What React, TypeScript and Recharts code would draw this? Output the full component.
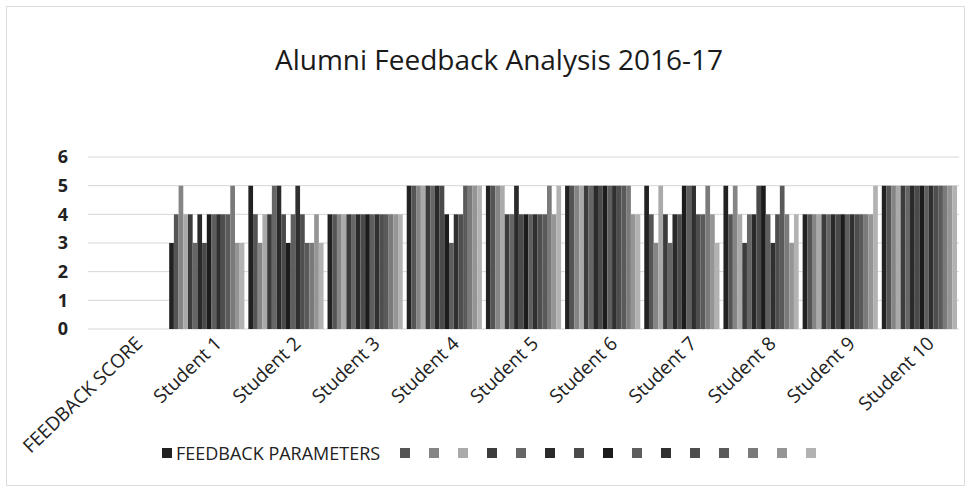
import { BarChart, Bar, XAxis, YAxis, CartesianGrid } from 'recharts';

const categories = [
  'FEEDBACK SCORE',
  'Student 1',
  'Student 2',
  'Student 3',
  'Student 4',
  'Student 5',
  'Student 6',
  'Student 7',
  'Student 8',
  'Student 9',
  'Student 10',
];

// one entry per feedback parameter; only the first one has a name
const seriesNames = [
  'FEEDBACK PARAMETERS',
  '', '', '', '', '', '', '', '', '', '', '', '', '', '', '',
];

const seriesColors = [
  '#222222', '#555555', '#858585', '#aaaaaa', '#3c3c3c', '#666666', '#2a2a2a', '#4a4a4a',
  '#1c1c1c', '#5e5e5e', '#303030', '#4e4e4e', '#5a5a5a', '#7a7a7a', '#959595', '#b2b2b2',
];

const student1 = [3, 4, 5, 4, 4, 3, 4, 3, 4, 4, 4, 4, 4, 5, 3, 3];
const student2 = [5, 4, 3, 4, 4, 5, 5, 4, 3, 4, 5, 4, 3, 3, 4, 3];
const student3 = [4, 4, 4, 4, 4, 4, 4, 4, 4, 4, 4, 4, 4, 4, 4, 4];
const student4 = [5, 5, 5, 5, 5, 5, 5, 5, 4, 3, 4, 4, 5, 5, 5, 5];
const student5 = [5, 5, 5, 5, 4, 4, 5, 4, 4, 4, 4, 4, 4, 5, 4, 5];
const student6 = [5, 5, 5, 5, 5, 5, 5, 5, 5, 5, 5, 5, 5, 5, 4, 4];
const student7 = [5, 4, 3, 5, 4, 3, 4, 4, 5, 5, 5, 4, 4, 5, 4, 3];
const student8 = [5, 4, 5, 4, 3, 4, 4, 5, 5, 4, 3, 4, 5, 4, 3, 4];
const student9 = [4, 4, 4, 4, 4, 4, 4, 4, 4, 4, 4, 4, 4, 4, 4, 5];
const student10 = [5, 5, 5, 5, 5, 5, 5, 5, 5, 5, 5, 5, 5, 5, 5, 5];

const studentScores = [
  student1, student2, student3, student4, student5,
  student6, student7, student8, student9, student10,
];

const yTicks = [0, 1, 2, 3, 4, 5, 6];

const data = categories.map((name, i) => {
  const row: Record<string, string | number | null> = { name };
  seriesNames.forEach((_, j) => {
    row['p' + j] = i === 0 ? null : studentScores[i - 1][j];
  });
  return row;
});

const CategoryTick = (props: any) => {
  const { x, y, payload } = props;
  return (
    <g transform={`translate(${x + 16},${y + 8})`}>
      <text
        textAnchor="end"
        transform="rotate(-44)"
        fontSize={19}
        fill="#222"
        fontFamily="'Open Sans', sans-serif"
      >
        {payload.value}
      </text>
    </g>
  );
};

export default function App() {
  return (
    <div
      style={{
        position: 'absolute',
        left: 0,
        top: 0,
        width: 971,
        height: 492,
        background: '#fff',
        fontFamily: "'Open Sans', sans-serif",
      }}
    >
      <div
        style={{
          position: 'absolute',
          left: 6,
          top: 6,
          width: 957,
          height: 478,
          border: '1px solid #dcdcdc',
        }}
      />
      <div
        style={{
          position: 'absolute',
          left: 0,
          width: 998,
          top: 40,
          textAlign: 'center',
          fontSize: 28,
          color: '#1a1a1a',
        }}
      >
        Alumni Feedback Analysis 2016-17
      </div>
      <BarChart
        width={971}
        height={492}
        data={data}
        margin={{ top: 157, right: 12, left: 0, bottom: 33 }}
        barCategoryGap="6%"
        barGap={0}
        barSize={4.7}
      >
        <CartesianGrid vertical={false} stroke="#d6d6d6" />
        <XAxis
          dataKey="name"
          interval={0}
          height={130}
          axisLine={false}
          tickLine={false}
          tick={<CategoryTick />}
        />
        <YAxis
          domain={[0, 6]}
          ticks={yTicks}
          width={88}
          axisLine={false}
          tickLine={false}
          tickMargin={14}
          tick={{ fill: '#222', fontSize: 18, fontWeight: 700 }}
        />
        {seriesNames.map((n, j) => (
          <Bar
            key={j}
            dataKey={'p' + j}
            name={n || 'p' + j}
            fill={seriesColors[j]}
            isAnimationActive={false}
          />
        ))}
      </BarChart>
      <div
        style={{
          position: 'absolute',
          left: 162,
          top: 441,
          display: 'flex',
          alignItems: 'center',
          fontSize: 18,
          color: '#222',
        }}
      >
        {seriesNames.map((n, j) => (
          <div
            key={j}
            style={{ display: 'flex', alignItems: 'center', marginRight: n ? 20 : 19 }}
          >
            <span
              style={{
                display: 'inline-block',
                width: 10,
                height: 10,
                background: seriesColors[j],
                marginRight: n ? 4 : 0,
              }}
            />
            {n && <span>{n}</span>}
          </div>
        ))}
      </div>
    </div>
  );
}
